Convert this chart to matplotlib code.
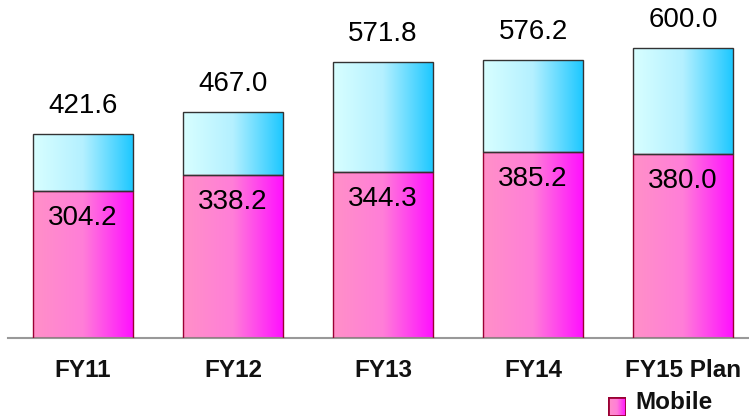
import numpy as np
import matplotlib
matplotlib.use("Agg")
import matplotlib.pyplot as plt
from matplotlib.colors import LinearSegmentedColormap
from matplotlib.patches import Rectangle

categories = ["FY11", "FY12", "FY13", "FY14", "FY15 Plan"]
mobile = [304.2, 338.2, 344.3, 385.2, 380.0]
total = [421.6, 467.0, 571.8, 576.2, 600.0]
other = [t - m for t, m in zip(total, mobile)]

pink_cmap = LinearSegmentedColormap.from_list("pink", ["#ff90c8", "#ff7ed8", "#ff10ff"])
cyan_cmap = LinearSegmentedColormap.from_list("cyan", ["#d8ffff", "#b4f0ff", "#1ec8ff"])

W, H = 749, 419
fig = plt.figure(figsize=(W / 100, H / 100), dpi=100)
ax = fig.add_axes([8 / W, (H - 338) / H, (W - 8) / W, 338 / H])

x = np.arange(len(categories))
width = 100 / 150

bars_m = ax.bar(x, mobile, width, facecolor="none", edgecolor="#9a0033", linewidth=1.0, zorder=3)
bars_o = ax.bar(x, other, width, bottom=mobile, facecolor="none", edgecolor="#333333",
                linewidth=1.0, zorder=3)

grad = np.linspace(0, 1, 256).reshape(1, -1)


def fill_gradient(patch, cmap):
    x0, y0 = patch.get_x(), patch.get_y()
    w, h = patch.get_width(), patch.get_height()
    im = ax.imshow(grad, cmap=cmap, aspect="auto", extent=(x0, x0 + w, y0, y0 + h),
                   zorder=2, interpolation="bilinear")
    im.set_clip_path(patch)


for p in bars_m:
    fill_gradient(p, pink_cmap)
for p in bars_o:
    fill_gradient(p, cyan_cmap)

label_font = dict(family=["Liberation Sans", "DejaVu Sans"], fontsize=20, color="black")
for xi, m, t in zip(x, mobile, total):
    ax.annotate(f"{t:.1f}", (xi, t), xytext=(0, 28), textcoords="offset pixels",
                ha="center", va="center", **label_font)
    ax.annotate(f"{m:.1f}", (xi, m), xytext=(0, -27), textcoords="offset pixels",
                ha="center", va="center", **label_font)

ax.set_xlim(-0.5, (W - 83) / 150)
ax.set_ylim(0, 338 / (290 / 600))

for s in ["top", "right", "left"]:
    ax.spines[s].set_visible(False)
ax.spines["bottom"].set_color("#999999")
ax.spines["bottom"].set_linewidth(1.5)
ax.set_yticks([])
ax.set_xticks(x)
bold_font = ["Liberation Sans", "DejaVu Sans"]
ax.set_xticklabels(categories, fontsize=17.5, fontweight="bold", family=bold_font,
                   color="#111111")
ax.tick_params(axis="x", length=0, pad=15)

# legend swatch
lax = fig.add_axes([608 / W, (H - 416) / H, 18 / W, 19 / H])
lax.imshow(grad, cmap=pink_cmap, aspect="auto", extent=(0, 1, 0, 1))
lax.add_patch(Rectangle((0, 0), 1, 1, fill=False, edgecolor="#9a0033", linewidth=2))
lax.set_xlim(0, 1)
lax.set_ylim(0, 1)
lax.axis("off")
fig.text(635 / W, (H - 402) / H, "Mobile", fontsize=17.5, fontweight="bold", va="center",
         family=bold_font, color="#111111")

fig.savefig("out.png", dpi=100)
